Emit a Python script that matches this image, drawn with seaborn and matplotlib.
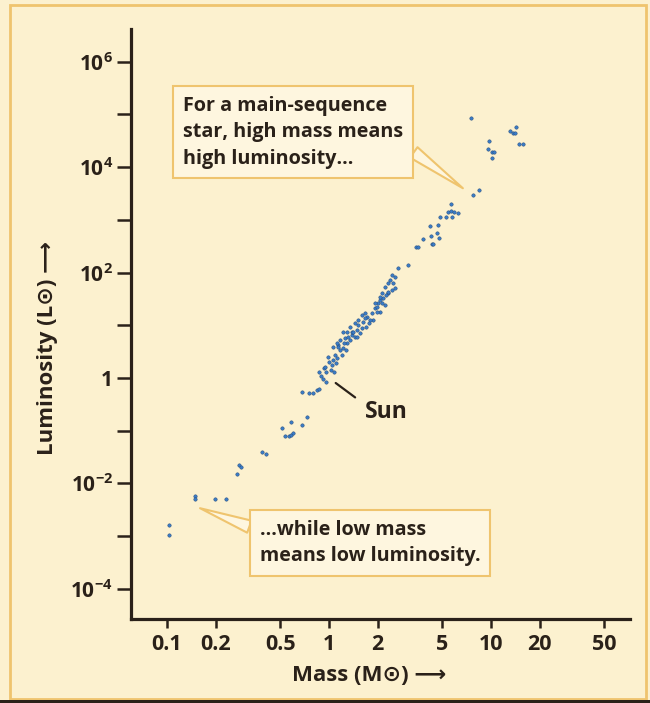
import matplotlib
matplotlib.use("Agg")
import matplotlib.pyplot as plt
from matplotlib.patches import Rectangle
import seaborn as sns
import pandas as pd

# stars (solar units)
mass = [0.103, 0.103, 0.149, 0.149, 0.198, 0.231, 0.27, 0.278, 0.286, 0.386,
        0.408, 0.513, 0.535, 0.566, 0.582, 0.60, 0.582, 0.681, 0.731, 0.681,
        0.753, 0.797, 0.843, 0.868,
        0.868, 0.893, 0.918, 0.958, 1.0, 1.04, 1.06, 1.09, 1.12, 1.17,
        1.20, 1.22, 1.29, 1.27, 1.35, 1.39, 1.45, 1.49, 1.51, 1.55,
        1.62, 1.69, 1.72, 1.84, 1.87, 1.92, 2.01, 2.06, 2.15, 2.22,
        2.31, 2.38, 2.48, 2.55, 2.55, 1.17, 1.03, 1.07, 1.06, 1.22,
        1.35, 1.39, 1.51, 1.79, 1.98, 2.12, 2.22, 2.31, 0.958, 0.93,
        1.14, 1.26, 1.60, 2.06, 2.45, 2.67,
        0.945, 0.986, 1.10, 1.14, 1.24, 1.31, 1.41, 1.49, 1.60, 1.67,
        1.77, 1.98, 2.12, 2.25, 2.31, 2.45, 2.06, 1.92, 1.67, 1.45,
        1.29, 1.12,
        3.07, 3.44, 3.54, 3.80, 4.20, 4.26, 4.32, 4.39, 4.64, 4.77,
        4.71, 4.84, 5.27, 5.74, 5.43, 5.66, 5.91, 6.26, 5.66, 7.74,
        8.43, 7.53, 9.72, 9.58, 10.1, 10.4, 10.1, 13.1, 13.7, 14.3,
        14.1, 14.9, 15.8]
luminosity = [1.6e-3, 1.05e-3, 5.8e-3, 5.1e-3, 5.1e-3, 5.1e-3, 0.0151, 0.0224, 0.0205, 0.0396,
              0.036, 0.113, 0.080, 0.080, 0.083, 0.091, 0.147, 0.128, 0.182, 0.543,
              0.52, 0.52, 0.593, 0.618,
              1.30, 1.09, 0.957, 0.84, 2.01, 1.76, 2.19, 2.73, 2.39, 3.4,
              2.73, 3.7, 4.6, 3.4, 5.25, 6.5, 6.0, 8.1, 10.1, 7.1,
              11.5, 9.3, 14.3, 17.1, 12.6, 21.2, 26.4, 17.9, 32.9, 24.2,
              40.9, 72, 63, 82, 51, 5.25, 1.42, 1.30, 3.87, 7.45,
              9.3, 7.45, 12.6, 12.6, 17.9, 40.9, 53, 42.7, 1.30, 1.55,
              4.2, 5.7, 15.6, 30, 90, 122,
              1.62, 2.5, 1.93, 3.87, 4.6, 6.0, 7.45, 6.0, 8.9, 13.7,
              11.0, 22.2, 26.4, 37.5, 63, 46.5, 34.4, 26.4, 17.1, 11.0,
              7.45, 4.6,
              139, 304, 304, 431, 762, 492, 347, 347, 560, 450,
              795, 1130, 1130, 1130, 1410, 1470, 1410, 1350, 1990, 2950,
              3660, 8.5e4, 3.1e4, 2.19e4, 1.91e4, 1.91e4, 1.48e4, 4.8e4, 4.4e4, 5.7e4,
              4.4e4, 2.8e4, 2.8e4]

x_ticks = [0.1, 0.2, 0.5, 1, 2, 5, 10, 20, 50]
x_ticklabels = ["0.1", "0.2", "0.5", "1", "2", "5", "10", "20", "50"]
y_ticks = [1e-4, 1e-3, 1e-2, 1e-1, 1, 1e1, 1e2, 1e3, 1e4, 1e5, 1e6]
y_ticklabels = [r"$\mathdefault{10^{-4}}$", "", r"$\mathdefault{10^{-2}}$", "", "1", "",
                r"$\mathdefault{10^{2}}$", "", r"$\mathdefault{10^{4}}$", "", r"$\mathdefault{10^{6}}$"]

df = pd.DataFrame({"mass": mass, "luminosity": luminosity})

sns.set_theme(style="ticks")
plt.rcParams["font.family"] = ["Open Sans", "DejaVu Sans"]
plt.rcParams["font.weight"] = "bold"

bg = "#fcf1cf"
ink = "#2a2119"
box_fill = "#fef6df"
box_edge = "#efc46e"

fig = plt.figure(figsize=(6.5, 7.03), dpi=100, facecolor=bg)
ax = fig.add_axes([131 / 650, 1 - 619 / 703, 499 / 650, 590 / 703])
ax.set_facecolor(bg)

sns.scatterplot(data=df, x="mass", y="luminosity", ax=ax, s=6,
                color="#3a7cc8", edgecolor="#244a78", linewidth=0.35, zorder=3)

ax.set_xscale("log")
ax.set_yscale("log")
ax.set_xlim(0.06, 72)
ax.set_ylim(10 ** -4.57, 10 ** 6.62)
ax.set_xticks(x_ticks)
ax.set_xticklabels(x_ticklabels)
ax.set_yticks(y_ticks)
ax.set_yticklabels(y_ticklabels)
ax.minorticks_off()

for s in ["top", "right"]:
    ax.spines[s].set_visible(False)
for s in ["left", "bottom"]:
    ax.spines[s].set_color(ink)
    ax.spines[s].set_linewidth(2.3)
ax.tick_params(axis="y", length=10, width=1.8, color=ink, pad=3,
               labelsize=15, labelcolor=ink)
ax.tick_params(axis="x", length=6.5, width=1.8, color=ink, pad=4,
               labelsize=15.5, labelcolor=ink)
for lab in ax.get_xticklabels() + ax.get_yticklabels():
    lab.set_fontweight("bold")

ax.set_xlabel("Mass (M⊙) ⟶", fontsize=16, fontweight="bold", color=ink, va="center")
ax.xaxis.set_label_coords(0.477, -0.095)
ax.set_ylabel("Luminosity (L⊙) ⟶", fontsize=16, fontweight="bold", color=ink, va="center")
ax.yaxis.set_label_coords(-0.168, 0.459)

bbox = dict(boxstyle="square,pad=0.5", fc=box_fill, ec=box_edge, lw=1.5)
ax.annotate("For a main-sequence\nstar, high mass means\nhigh luminosity…",
            xy=(6.7, 3980), xytext=(183, 703 - 96), textcoords="figure pixels",
            ha="left", va="top", fontsize=14.2, fontweight="bold", color=ink,
            linespacing=1.42, bbox=bbox,
            arrowprops=dict(arrowstyle="wedge,tail_width=0.65", fc=box_fill,
                            ec=box_edge, lw=1.5, relpos=(1.0, 0.33),
                            shrinkA=0, shrinkB=0))
ax.annotate("…while low mass\nmeans low luminosity.",
            xy=(0.16, 3.4e-3), xytext=(260, 703 - 520), textcoords="figure pixels",
            ha="left", va="top", fontsize=14.2, fontweight="bold", color=ink,
            linespacing=1.42, bbox=bbox,
            arrowprops=dict(arrowstyle="wedge,tail_width=0.65", fc=box_fill,
                            ec=box_edge, lw=1.5, relpos=(0.0, 0.77),
                            shrinkA=0, shrinkB=0))
ax.annotate("Sun", xy=(1, 1), xytext=(1.67, 0.227), ha="left", va="center",
            fontsize=16.5, fontweight="bold", color=ink,
            arrowprops=dict(arrowstyle="-", color=ink, lw=1.6, relpos=(0, 0.8),
                            shrinkA=6, shrinkB=6))

# frame around the figure
fig.patches.append(Rectangle((10 / 650, 4 / 703), 636 / 650, 694 / 703,
                             transform=fig.transFigure, fill=False,
                             ec="#efc46e", lw=2))
fig.patches.append(Rectangle((0, 0), 1, 3 / 703, transform=fig.transFigure,
                             fc=ink, ec="none"))

fig.savefig("out.png", dpi=100, facecolor=bg)
